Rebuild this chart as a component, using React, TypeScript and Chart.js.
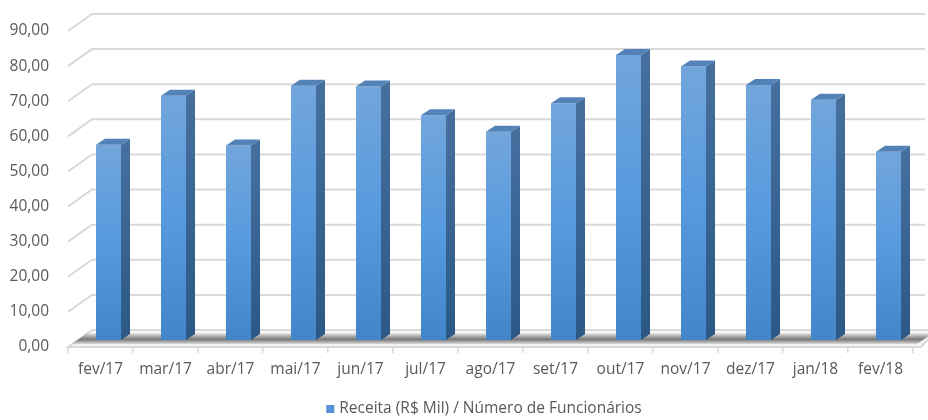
import React, { useEffect, useRef } from "react";
import { Chart, registerables } from "chart.js";

Chart.register(...registerables);

const categories = ["fev/17", "mar/17", "abr/17", "mai/17", "jun/17", "jul/17", "ago/17", "set/17", "out/17", "nov/17", "dez/17", "jan/18", "fev/18"];
const receitaPorFuncionario = [55.6, 69.6, 55.4, 72.4, 72.2, 64.0, 59.3, 67.4, 81.2, 77.9, 72.6, 68.4, 53.6];
const seriesLabel = "Receita (R$ Mil) / Número de Funcionários";
const yMin = 0;
const yMax = 90;
const yStep = 10;

const FONT = "'Open Sans', 'Liberation Sans', sans-serif";
const TEXT = "#595959";
const GRID = "#d9d9d9";
// depth offsets (front plane -> back wall)
const DX = 24;
const DY = -17;
// bar plane shift & bar depth
const BX = 8;
const BY = -7;
const SX = 9;
const SY = -6;

const fmt = (v: number) => v.toFixed(2).replace(".", ",");

const threeD = {
  id: "threeD",
  beforeDatasetsDraw(chart: any) {
    const { ctx, chartArea, scales } = chart;
    const { left, right, bottom } = chartArea;
    const y = scales.y;
    ctx.save();
    ctx.strokeStyle = GRID;
    ctx.lineWidth = 2;
    y.ticks.forEach((t: any) => {
      if (t.value === 0) return;
      const py = y.getPixelForValue(t.value);
      ctx.beginPath();
      ctx.moveTo(left, py);
      ctx.lineTo(left + DX, py + DY);
      ctx.lineTo(chart.width - 3, py + DY);
      ctx.stroke();
    });
    // floor
    ctx.beginPath();
    ctx.moveTo(left, bottom);
    ctx.lineTo(right + 8, bottom);
    ctx.lineTo(right + DX, bottom + DY);
    ctx.lineTo(left + DX, bottom + DY);
    ctx.closePath();
    ctx.fillStyle = "#f6f6f6";
    ctx.fill();
    ctx.stroke();
    // shadow band on floor
    const g = ctx.createLinearGradient(0, bottom + DY * 0.85, 0, bottom - 2);
    g.addColorStop(0, "rgba(0,0,0,0)");
    g.addColorStop(0.55, "rgba(40,40,40,0.6)");
    g.addColorStop(1, "rgba(0,0,0,0)");
    ctx.beginPath();
    ctx.moveTo(left + DX * 0.15, bottom + DY * 0.15);
    ctx.lineTo(right + DX * 0.15, bottom + DY * 0.15);
    ctx.lineTo(right + DX * 0.85, bottom + DY * 0.85);
    ctx.lineTo(left + DX * 0.85, bottom + DY * 0.85);
    ctx.closePath();
    ctx.fillStyle = g;
    ctx.fill();
    ctx.restore();

    ctx.save();
    ctx.translate(BX, BY);
  },
  afterDatasetsDraw(chart: any) {
    const { ctx } = chart;
    const meta = chart.getDatasetMeta(0);
    meta.data.forEach((el: any) => {
      const { x, y, base, width } = el.getProps(["x", "y", "base", "width"], true);
      const x0 = x - width / 2;
      const x1 = x + width / 2;
      // side
      const gs = ctx.createLinearGradient(0, y, 0, base);
      gs.addColorStop(0, "#466f9e");
      gs.addColorStop(1, "#2b5886");
      ctx.beginPath();
      ctx.moveTo(x1, y);
      ctx.lineTo(x1 + SX, y + SY);
      ctx.lineTo(x1 + SX, base + SY);
      ctx.lineTo(x1, base);
      ctx.closePath();
      ctx.fillStyle = gs;
      ctx.fill();
      // top
      ctx.beginPath();
      ctx.moveTo(x0, y);
      ctx.lineTo(x1, y);
      ctx.lineTo(x1 + SX, y + SY);
      ctx.lineTo(x0 + SX, y + SY);
      ctx.closePath();
      ctx.fillStyle = "#5282b8";
      ctx.fill();
    });
    ctx.restore();
  },
  afterDraw(chart: any) {
    const { ctx } = chart;
    ctx.save();
    ctx.font = `15.5px ${FONT}`;
    const label = chart.data.datasets[0].label;
    const tw = ctx.measureText(label).width;
    const box = 8;
    const gap = 5;
    const total = box + gap + tw;
    const cx = 484;
    const sx = cx - total / 2;
    const cy = 409;
    ctx.fillStyle = "#5394d8";
    ctx.fillRect(sx, cy - box / 2, box, box);
    ctx.fillStyle = TEXT;
    ctx.textBaseline = "middle";
    ctx.textAlign = "left";
    ctx.fillText(label, sx + box + gap, cy);
    ctx.restore();
  },
};

export default function App() {
  const ref = useRef<HTMLCanvasElement>(null);
  useEffect(() => {
    document.body.style.margin = "0";
    const canvas = ref.current;
    if (!canvas) return;
    const chart = new Chart(canvas, {
      type: "bar",
      data: {
        labels: categories,
        datasets: [
          {
            label: seriesLabel,
            data: receitaPorFuncionario,
            clip: false as any,
            borderWidth: 0,
            categoryPercentage: 1,
            barPercentage: 0.385,
            backgroundColor: (c: any) => {
              const ch = c.chart;
              const ys = ch.scales && ch.scales.y;
              if (!ys || c.parsed == null || c.parsed.y == null) return "#5b9bd5";
              const top = ys.getPixelForValue(c.parsed.y);
              const bot = ys.getPixelForValue(0);
              if (!isFinite(top) || !isFinite(bot) || top === bot) return "#5b9bd5";
              const g = ch.ctx.createLinearGradient(0, top, 0, bot);
              g.addColorStop(0, "#72a6dc");
              g.addColorStop(0.5, "#579ade");
              g.addColorStop(1, "#4385c9");
              return g;
            },
          } as any,
        ],
      },
      options: {
        animation: false,
        responsive: false,
        layout: { padding: { top: 31, right: 15, left: 0, bottom: 0 } },
        plugins: {
          legend: { display: false },
          tooltip: { enabled: false },
        },
        scales: {
          x: {
            offset: true,
            grid: {
              display: true,
              offset: true,
              drawOnChartArea: false,
              drawTicks: true,
              tickLength: 6,
              color: GRID,
              lineWidth: 1.5,
            },
            border: { display: true, color: GRID, width: 2 },
            ticks: {
              color: TEXT,
              font: { family: FONT, size: 15.5 },
              padding: 7,
              maxRotation: 0,
              autoSkip: false,
            },
            afterFit: (s: any) => {
              s.height = 73;
            },
          },
          y: {
            min: yMin,
            max: yMax,
            grid: { display: false },
            border: { display: false },
            ticks: {
              stepSize: yStep,
              color: TEXT,
              font: { family: FONT, size: 15.5 },
              padding: 11,
              callback: (v: any) => fmt(Number(v)),
            },
            afterFit: (s: any) => {
              s.width = 68;
            },
          },
        },
      },
      plugins: [threeD],
    });
    return () => chart.destroy();
  }, []);
  return (
    <div style={{ position: "relative", width: 928, height: 420, background: "#fff" }}>
      <canvas ref={ref} width={928} height={420} style={{ display: "block", width: 928, height: 420 }} />
    </div>
  );
}
